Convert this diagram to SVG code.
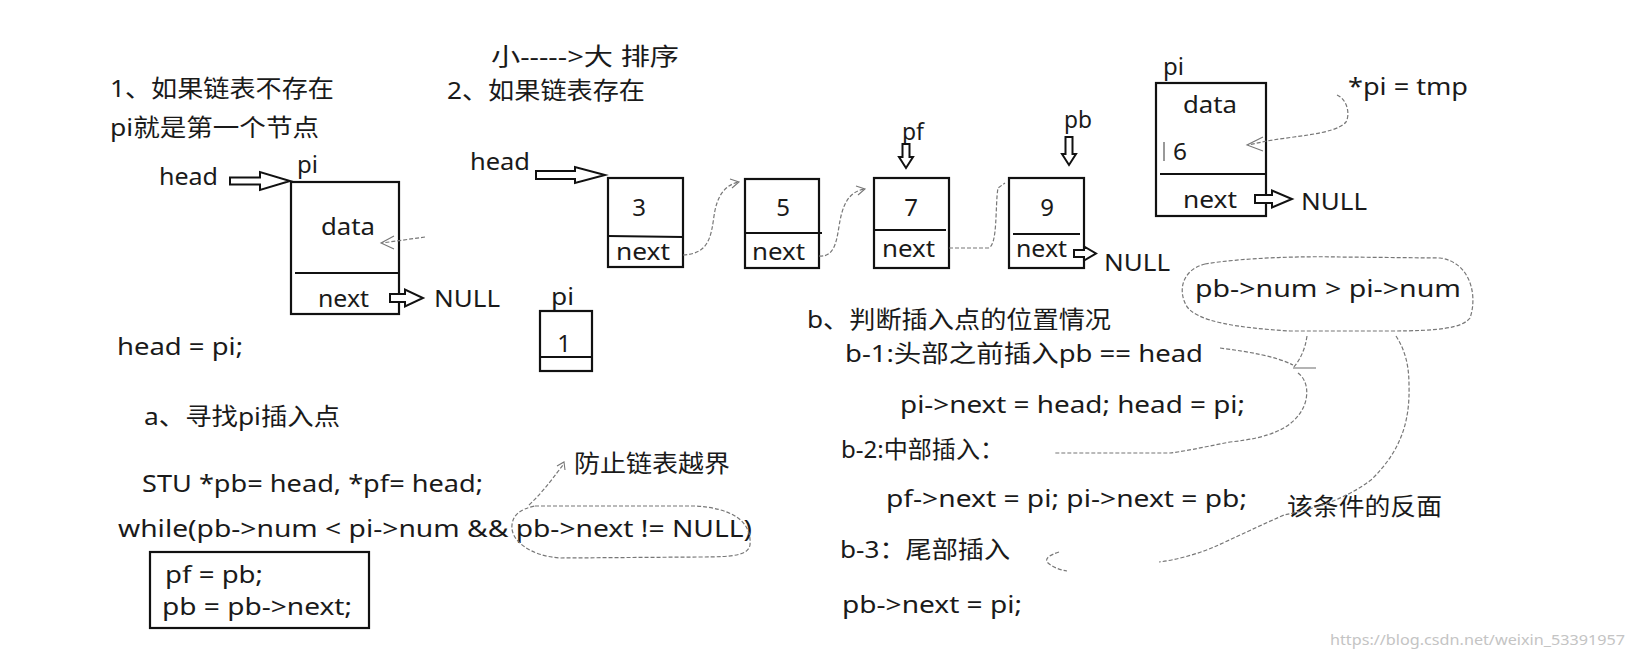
<svg xmlns="http://www.w3.org/2000/svg" width="1638" height="661" viewBox="0 0 1638 661">
<style>
text{font-family:"Noto Sans","Noto Sans CJK SC",sans-serif;font-size:24px;fill:#1a1a1a}
.box{fill:#fff;stroke:#111;stroke-width:2.2}
.div{stroke:#111;stroke-width:2.2}
.hol{fill:#fff;stroke:#111;stroke-width:2;stroke-linejoin:miter}
.dash{fill:none;stroke:#777;stroke-width:1.2;stroke-dasharray:4 2}
.thin{fill:none;stroke:#777;stroke-width:1.1}
.wm{font-size:15px;fill:#c4c4c4}
</style>
<rect width="1638" height="661" fill="#fff"/>

<g id="titles">
<text x="491" y="65" textLength="188" lengthAdjust="spacingAndGlyphs">小-----&gt;大 排序</text>
<text x="110" y="97" textLength="224" lengthAdjust="spacingAndGlyphs">1、如果链表不存在</text>
<text x="110" y="136" textLength="209" lengthAdjust="spacingAndGlyphs">pi就是第一个节点</text>
<text x="447" y="99" textLength="198" lengthAdjust="spacingAndGlyphs">2、如果链表存在</text>
</g>

<g id="node-first">
<text x="159" y="185" textLength="59" lengthAdjust="spacingAndGlyphs">head</text>
<path class="hol" d="M230,177.5 L260,177.5 L260,172 L290,181 L260,190 L260,184.5 L230,184.5 Z"/>
<text x="297" y="173" textLength="21" lengthAdjust="spacingAndGlyphs">pi</text>
<rect class="box" x="291" y="182" width="108" height="132"/>
<line class="div" x1="295" y1="273" x2="399" y2="273"/>
<text x="321" y="235" textLength="54" lengthAdjust="spacingAndGlyphs">data</text>
<text x="318" y="307" textLength="51" lengthAdjust="spacingAndGlyphs">next</text>
<path class="hol" d="M390,294 L405,294 L405,289.5 L423,298 L405,306.5 L405,302 L390,302 Z"/>
<text x="434" y="307" textLength="66" lengthAdjust="spacingAndGlyphs">NULL</text>
<text x="117" y="355" textLength="126" lengthAdjust="spacingAndGlyphs">head = pi;</text>
</g>

<g id="list-head">
<text x="470" y="170" textLength="60" lengthAdjust="spacingAndGlyphs">head</text>
<path class="hol" d="M536,171 L575,171 L575,167 L605,175 L575,183 L575,179 L536,179 Z"/>
</g>

<g id="node-3">
<rect class="box" x="608" y="178" width="75" height="89"/>
<line class="div" x1="608" y1="236" x2="683" y2="237"/>
<text x="639" y="216" text-anchor="middle">3</text>
<text x="616" y="260" textLength="54" lengthAdjust="spacingAndGlyphs">next</text>
</g>
<g id="node-5">
<rect class="box" x="745" y="179" width="74" height="89"/>
<line class="div" x1="745" y1="233" x2="822" y2="233"/>
<text x="783" y="216" text-anchor="middle">5</text>
<text x="752" y="260" textLength="53" lengthAdjust="spacingAndGlyphs">next</text>
</g>
<g id="node-7">
<rect class="box" x="874" y="178" width="75" height="90"/>
<line class="div" x1="874" y1="230" x2="946" y2="230"/>
<text x="911" y="216" text-anchor="middle">7</text>
<text x="882" y="257" textLength="53" lengthAdjust="spacingAndGlyphs">next</text>
<text x="902" y="140" textLength="22" lengthAdjust="spacingAndGlyphs">pf</text>
<path class="hol" d="M902.5,144 L909.5,144 L909.5,157 L913,157 L906,168 L899,157 L902.5,157 Z"/>
</g>
<g id="node-9">
<rect class="box" x="1009" y="178" width="75" height="90"/>
<line class="div" x1="1013" y1="234" x2="1080" y2="234"/>
<text x="1047" y="216" text-anchor="middle">9</text>
<text x="1016" y="257" textLength="51" lengthAdjust="spacingAndGlyphs">next</text>
<text x="1064" y="128" textLength="28" lengthAdjust="spacingAndGlyphs">pb</text>
<path class="hol" d="M1065.5,137 L1072.5,137 L1072.5,154 L1076,154 L1069,165 L1062,154 L1065.5,154 Z"/>
<path class="hol" d="M1074,250 L1084,250 L1084,246.5 L1096,253.5 L1084,260.5 L1084,257 L1074,257 Z"/>
<text x="1104" y="271" textLength="66" lengthAdjust="spacingAndGlyphs">NULL</text>
</g>

<g id="node-pi-1">
<text x="551" y="305" textLength="23" lengthAdjust="spacingAndGlyphs">pi</text>
<rect class="box" x="540" y="311" width="52" height="60"/>
<line class="div" x1="540" y1="357" x2="592" y2="357"/>
<text x="564" y="352" text-anchor="middle">1</text>
</g>

<g id="node-pi-6">
<text x="1163" y="75" textLength="21" lengthAdjust="spacingAndGlyphs">pi</text>
<rect class="box" x="1156" y="83" width="110" height="133"/>
<line class="div" x1="1160" y1="174" x2="1266" y2="174"/>
<text x="1183" y="113" textLength="54" lengthAdjust="spacingAndGlyphs">data</text>
<line x1="1164" y1="142" x2="1164" y2="161" stroke="#555" stroke-width="1.2"/>
<text x="1173" y="160" textLength="14" lengthAdjust="spacingAndGlyphs">6</text>
<text x="1183" y="208" textLength="54" lengthAdjust="spacingAndGlyphs">next</text>
<path class="hol" d="M1255,195 L1272,195 L1272,190.5 L1292,199 L1272,207.5 L1272,203 L1255,203 Z"/>
<text x="1301" y="210" textLength="66" lengthAdjust="spacingAndGlyphs">NULL</text>
<text x="1348" y="95" textLength="120" lengthAdjust="spacingAndGlyphs">*pi = tmp</text>
</g>

<g id="code-a">
<text x="144" y="425" textLength="196" lengthAdjust="spacingAndGlyphs">a、寻找pi插入点</text>
<text x="142" y="492" textLength="341" lengthAdjust="spacingAndGlyphs">STU *pb= head, *pf= head;</text>
<text x="118" y="537" textLength="634" lengthAdjust="spacingAndGlyphs">while(pb-&gt;num &lt; pi-&gt;num &amp;&amp; pb-&gt;next != NULL)</text>
<text x="574" y="472" textLength="156" lengthAdjust="spacingAndGlyphs">防止链表越界</text>
<rect class="box" x="150" y="552" width="219" height="76"/>
<text x="165" y="583" textLength="98" lengthAdjust="spacingAndGlyphs">pf = pb;</text>
<text x="162" y="615" textLength="190" lengthAdjust="spacingAndGlyphs">pb = pb-&gt;next;</text>
</g>

<g id="code-b">
<text x="807" y="328" textLength="304" lengthAdjust="spacingAndGlyphs">b、判断插入点的位置情况</text>
<text x="845" y="362" textLength="358" lengthAdjust="spacingAndGlyphs">b-1:头部之前插入pb == head</text>
<text x="900" y="413" textLength="345" lengthAdjust="spacingAndGlyphs">pi-&gt;next = head; head = pi;</text>
<text x="841" y="458" textLength="163" lengthAdjust="spacingAndGlyphs">b-2:中部插入：</text>
<text x="886" y="507" textLength="361" lengthAdjust="spacingAndGlyphs">pf-&gt;next = pi; pi-&gt;next = pb;</text>
<text x="840" y="558" textLength="170" lengthAdjust="spacingAndGlyphs">b-3：尾部插入</text>
<text x="842" y="613" textLength="180" lengthAdjust="spacingAndGlyphs">pb-&gt;next = pi;</text>
<text x="1195" y="297" textLength="266" lengthAdjust="spacingAndGlyphs">pb-&gt;num &gt; pi-&gt;num</text>
<text x="1287" y="515" textLength="155" lengthAdjust="spacingAndGlyphs">该条件的反面</text>
</g>

<g id="connectors">
<path class="dash" d="M425,237 L382,243"/>
<path class="thin" d="M394,236 L381,243 L394,249"/>
<path class="dash" d="M683,255 C708,254 711,238 714,216 C717,196 724,186 738,182"/>
<path class="thin" d="M730,179 L739,182 L732,188"/>
<path class="dash" d="M819,256 C838,258 837,232 841,216 C845,200 851,192 864,189"/>
<path class="thin" d="M856,186 L865,189 L858,195"/>
<path class="dash" d="M949,248 L988,248 C998,247 995,205 998,188 L1005,183"/>
<path class="dash" d="M1337,95 C1348,100 1350,115 1346,122 C1335,135 1290,136 1262,142 L1248,145"/>
<path class="thin" d="M1263,137 L1247,145 L1263,151"/>
<path class="dash" d="M529,505 C545,490 555,475 563,465"/>
<path class="thin" d="M557,466 L564,462 L565,470"/>
<path class="dash" d="M535,506 L695,506 C730,508 752,520 750,545 C748,555 735,557 700,557 L560,558 C530,556 510,540 512,525 C513,515 520,509 535,506"/>
<path class="dash" d="M1205,264 C1240,258 1300,256 1340,257 L1440,258 C1470,262 1478,295 1470,318 C1462,328 1440,331 1390,331 L1290,331 C1240,328 1195,322 1186,305 C1178,290 1182,270 1205,264"/>
<path class="dash" d="M1307,336 C1305,350 1300,360 1293,368"/>
<path class="thin" d="M1293,368 L1316,368"/>
<path class="dash" d="M1220,348 C1250,352 1275,356 1293,365"/>
<path class="dash" d="M1298,373 C1310,382 1308,400 1302,410 C1292,428 1270,438 1230,442 C1200,448 1180,452 1170,453 L1054,453"/>
<path class="dash" d="M1396,336 C1405,350 1409,365 1409,385 C1410,420 1402,450 1371,480 C1345,500 1310,510 1284,515 C1250,530 1230,540 1214,547 C1195,555 1175,560 1159,562"/>
<path class="dash" d="M1059,552 C1050,555 1045,558 1047,562 C1052,567 1060,570 1067,571"/>
</g>

<text class="wm" x="1330" y="645" textLength="295" lengthAdjust="spacingAndGlyphs">https://blog.csdn.net/weixin_53391957</text>
</svg>
